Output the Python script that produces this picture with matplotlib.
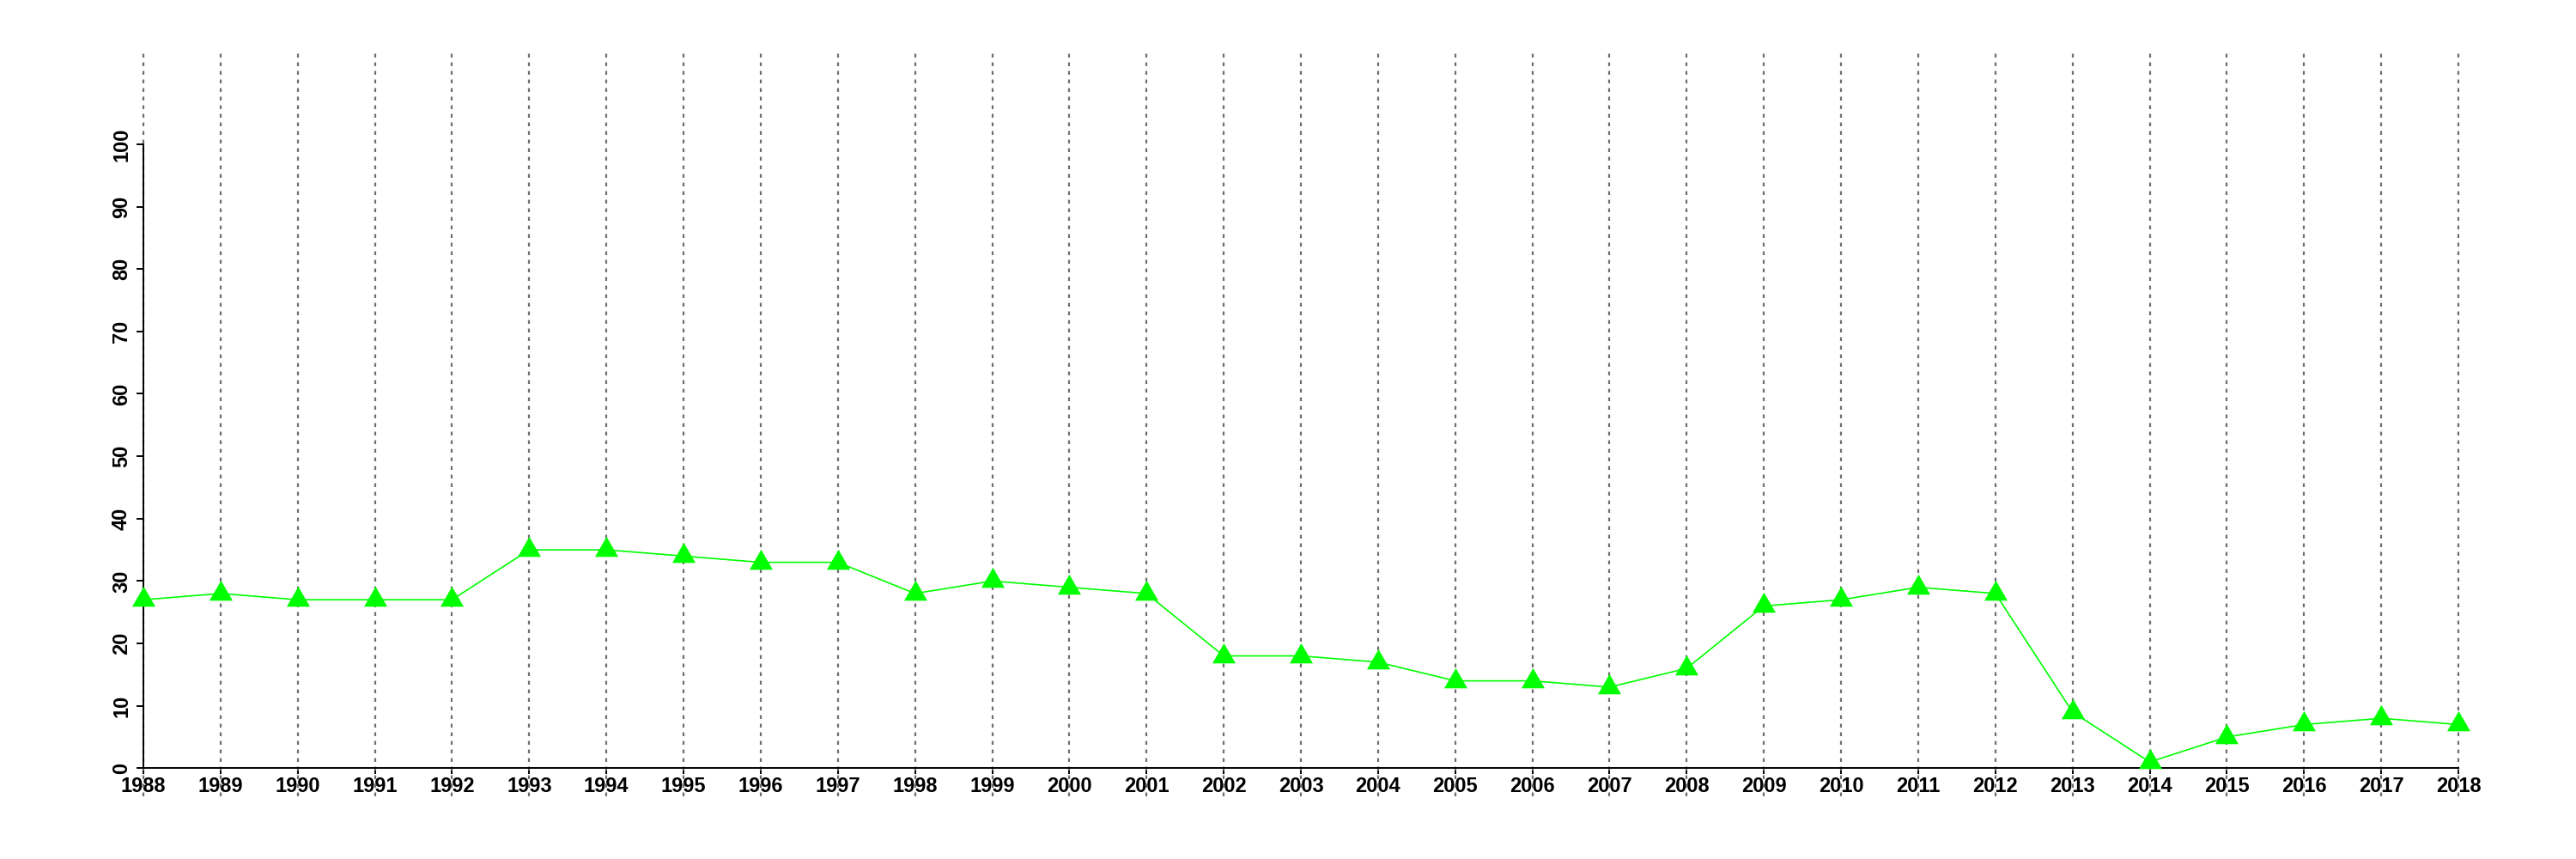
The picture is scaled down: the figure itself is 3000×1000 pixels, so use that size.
import matplotlib
matplotlib.use("Agg")
import matplotlib.pyplot as plt

# data
years = list(range(1988, 2019))
values = [27, 28, 27, 27, 27, 35, 35, 34, 33, 33, 28, 30, 29, 28, 18,
          18, 17, 14, 14, 13, 16, 26, 27, 29, 28, 9, 1, 5, 7, 8, 7]
y_ticks = [0, 10, 20, 30, 40, 50, 60, 70, 80, 90, 100]

plt.rcParams['font.family'] = ['Liberation Sans', 'DejaVu Sans']

fig = plt.figure(figsize=(30, 10), dpi=100)
ax = fig.add_axes([0.0257, 0.073, 0.9586, 0.868])
ax.set_xlim(1987, 2019)
ax.set_ylim(-4.5, 115)

# dotted vertical guide per year, spanning the whole plot area
ax.vlines(years, -4.5, 115, colors='#6e6e6e', linewidth=1.6,
          linestyles=(0, (2, 2.5)), zorder=3)

tri = [(-1, -0.577), (1, -0.577), (0, 1.155)]
ax.plot(years, values, color='#00ff00', linewidth=1.2, marker=tri,
        markersize=22.5, markerfacecolor='#00ff00', markeredgewidth=0, zorder=4)

for s in ['top', 'right']:
    ax.spines[s].set_visible(False)
ax.spines['bottom'].set_position(('data', 0))
ax.spines['bottom'].set_bounds(1988, 2018)
ax.spines['left'].set_position(('data', 1988))
ax.spines['left'].set_bounds(0, 100)
for s in ['bottom', 'left']:
    ax.spines[s].set_linewidth(1.4)
    ax.spines[s].set_zorder(3.5)

ax.set_xticks(years)
ax.set_xticklabels([str(y) for y in years], fontsize=17, fontweight='bold')
ax.set_yticks(y_ticks)
ax.set_yticklabels([str(v) for v in y_ticks], fontsize=17, fontweight='bold',
                   rotation=90, va='center')
ax.tick_params(axis='x', length=5, width=1.4, pad=2)
ax.tick_params(axis='y', length=6, width=1.4, pad=4)

fig.savefig('out.png', dpi=100)
